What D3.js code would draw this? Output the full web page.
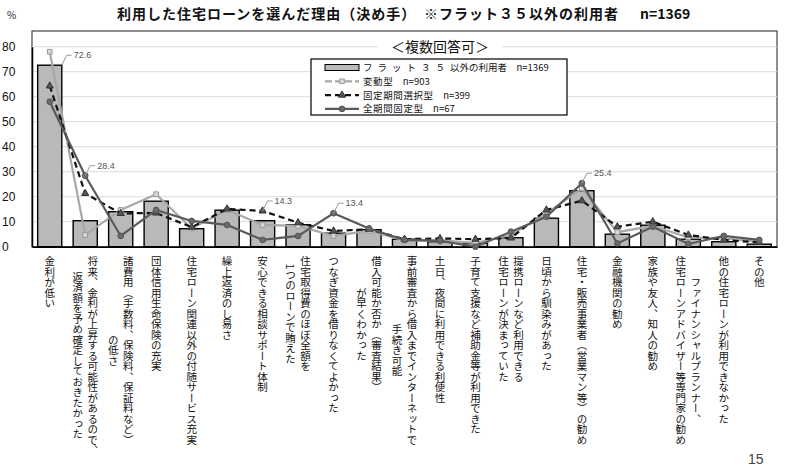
<!DOCTYPE html>
<html>
<head>
<meta charset="utf-8">
<script src="https://cdn.jsdelivr.net/npm/d3@7"></script>
<style>
body{margin:0;background:#fff;}
svg{display:block;font-family:"Noto Sans CJK JP","Noto Sans",sans-serif;}
</style>
</head>
<body>
<div id="Main_Part"></div>
<script>
// 項目（\n で改行、縦書き）
var categories = [
	"金利が低い",
	"将来、金利が上昇する可能性があるので、\n返済額を予め確定しておきたかった",
	"諸費用（手数料、保険料、保証料など）\nの低さ",
	"団体信用生命保険の充実",
	"住宅ローン関連以外の付随サービス充実",
	"繰上返済のし易さ",
	"安心できる相談サポート体制",
	"住宅取得費のほぼ全額を\n1つのローンで賄えた",
	"つなぎ資金を借りなくてよかった",
	"借入可能か否か（審査結果）\nが早くわかった",
	"事前審査から借入までインターネットで\n手続き可能",
	"土日、夜間に利用できる利便性",
	"子育て支援など補助金等が利用できた",
	"提携ローンなど利用できる\n住宅ローンが決まっていた",
	"日頃から馴染みがあった",
	"住宅・販売事業者（営業マン等）の勧め",
	"金融機関の勧め",
	"家族や友人、知人の勧め",
	"ファイナンシャルプランナー、\n住宅ローンアドバイザー等専門家の勧め",
	"他の住宅ローンが利用できなかった",
	"その他"
];

// 凡例名 [前半, 後半]
var seriesNames = [
	["フラット３５", "以外の利用者　n=1369"],
	["変動型", "　n=903"],
	["固定期間選択型", "　n=399"],
	["全期間固定型", "　n=67"]
];

var flatValues    = [72.6, 10.4, 14.0, 18.2, 7.2, 14.6, 10.4, 8.8, 5.4, 6.8, 3.0, 2.0, 1.4, 3.6, 11.4, 22.4, 5.0, 8.6, 3.0, 2.0, 1.0];
var hendoValues   = [78.0, 4.7, 14.7, 21.0, 7.3, 14.7, 8.7, 8.3, 4.3, 6.3, 2.5, 2.5, 1.5, 4.7, 13.3, 23.3, 5.8, 8.3, 3.7, 3.3, 2.0];
var senntakuValues= [64.3, 21.3, 13.3, 13.5, 7.8, 15.1, 14.3, 9.6, 6.3, 7.0, 3.0, 3.3, 3.0, 3.5, 14.7, 18.4, 8.0, 10.0, 4.7, 2.7, 1.7];
var zenkikanValues= [58.0, 28.4, 4.3, 14.7, 10.3, 8.7, 2.7, 4.3, 13.4, 7.3, 2.7, 2.3, 0.0, 6.0, 12.0, 25.4, 1.3, 8.0, 1.1, 4.3, 2.7];

var yTicks = [0, 10, 20, 30, 40, 50, 60, 70, 80];

// データラベル [項目番号, 系列]
var dataLabels = [[0, "flat"], [1, "zenkikan"], [6, "senntaku"], [8, "zenkikan"], [15, "zenkikan"]];

var Width = 800, Height = 472;
var PlotLeft = 32, PlotRight = 777, PlotTop = 31, PlotBottom = 246.7;

var svg = d3.select('#Main_Part')
	.append("svg")
	.attr("width", Width)
	.attr("height", Height);

var x = d3.scaleBand()
	.domain(d3.range(categories.length))
	.range([PlotLeft, PlotRight])
	.paddingInner(0.32)
	.paddingOuter(0.16);

var y = d3.scaleLinear()
	.domain([0, 80])
	.range([PlotBottom, 46.7]);

function cx(i) { return x(i) + x.bandwidth() / 2; }

// 枠
svg.append("rect")
	.attr("x", PlotLeft)
	.attr("y", PlotTop)
	.attr("width", PlotRight - PlotLeft)
	.attr("height", PlotBottom - PlotTop)
	.style("fill", "none")
	.style("stroke", "#444")
	.style("stroke-width", 1.2);

// グリッド
svg.append("g")
	.selectAll("line")
	.data(yTicks.slice(1))
	.enter()
	.append("line")
	.attr("x1", PlotLeft)
	.attr("x2", PlotRight)
	.attr("y1", function(d){ return y(d); })
	.attr("y2", function(d){ return y(d); })
	.style("stroke", "#dcdcdc")
	.style("stroke-width", 1);

// Y軸
var yAxis = svg.append("g")
	.attr("transform", "translate(" + PlotLeft + ",0)")
	.call(d3.axisLeft(y).tickValues(yTicks).tickSize(0).tickPadding(0));
yAxis.select(".domain").style("stroke", "#000").style("stroke-width", 1.5);
yAxis.selectAll("text")
	.attr("x", -30)
	.style("text-anchor", "start")
	.style("font-family", "'Liberation Sans',Arial,sans-serif")
	.style("font-size", "12px")
	.style("fill", "#111");

svg.append("text")
	.attr("x", 7)
	.attr("y", 19)
	.text("%")
	.style("font-size", "10px")
	.style("fill", "#222");

// 棒
svg.append("g")
	.selectAll("rect")
	.data(flatValues)
	.enter()
	.append("rect")
	.attr("x", function(d, i){ return x(i); })
	.attr("y", function(d){ return y(d); })
	.attr("width", x.bandwidth())
	.attr("height", function(d){ return PlotBottom - y(d); })
	.style("fill", "#b9b9b9")
	.style("stroke", "#000")
	.style("stroke-width", 1.4);

// X軸
var xAxis = svg.append("g")
	.attr("transform", "translate(0," + PlotBottom + ")")
	.call(d3.axisBottom(x).tickSize(0).tickFormat(""));
xAxis.select(".domain").style("stroke", "#000").style("stroke-width", 1.5);

// 折れ線
var line = d3.line()
	.x(function(d, i){ return cx(i); })
	.y(function(d){ return y(d); });

function DrawSeries(values, s)
{
	svg.append("path")
		.datum(values)
		.attr("d", line)
		.style("fill", "none")
		.style("stroke", s.color)
		.style("stroke-width", s.width)
		.style("stroke-dasharray", s.dash);

	svg.append("g")
		.selectAll("path")
		.data(values)
		.enter()
		.append("path")
		.attr("transform", function(d, i){ return "translate(" + cx(i) + "," + y(d) + ")"; })
		.attr("d", d3.symbol().type(s.marker.type).size(s.marker.size))
		.style("fill", s.marker.fill)
		.style("stroke", s.marker.stroke)
		.style("stroke-width", 1);
	return null;
}

var styles = {
	hendo:    {color: "#a8a8a8", width: 2.2, dash: null, marker: {type: d3.symbolSquare, size: 22, fill: "#d8d8d8", stroke: "#999"}},
	senntaku: {color: "#111", width: 2.2, dash: "6,4", marker: {type: d3.symbolTriangle, size: 22, fill: "#555", stroke: "#333"}},
	zenkikan: {color: "#5a5a5a", width: 2.2, dash: null, marker: {type: d3.symbolCircle, size: 26, fill: "#6a6a6a", stroke: "#555"}}
};

DrawSeries(hendoValues, styles.hendo);
DrawSeries(senntakuValues, styles.senntaku);
DrawSeries(zenkikanValues, styles.zenkikan);

// データラベル
var seriesValues = {flat: flatValues, hendo: hendoValues, senntaku: senntakuValues, zenkikan: zenkikanValues};
dataLabels.forEach(function(l){
	var v = seriesValues[l[1]][l[0]];
	var px = cx(l[0]), py = y(v);
	if (l[1] == "flat") { px = x(l[0]) + x.bandwidth(); }
	svg.append("path")
		.attr("d", "M" + px + "," + py + "L" + (px + 5) + "," + (py - 10) + "L" + (px + 10) + "," + (py - 10))
		.style("fill", "none")
		.style("stroke", "#999")
		.style("stroke-width", 1);
	svg.append("text")
		.attr("x", px + 12)
		.attr("y", py - 7)
		.text(v.toFixed(1))
		.style("font-family", "'Liberation Sans',Arial,sans-serif")
		.style("font-size", "9px")
		.style("fill", "#555");
});

// 縦書きラベル
var LabelTop = 256, LineGap = 15, FontSize = 10.5;
categories.forEach(function(c, i){
	var lines = c.split("\n");
	var g = svg.append("g");
	var texts = [];
	lines.forEach(function(s, j){
		var t = g.append("text")
			.attr("x", cx(i) + (lines.length - 1) * LineGap / 2 - j * LineGap)
			.attr("y", LabelTop)
			.text(s)
			.style("writing-mode", "vertical-rl")
			.style("font-size", FontSize + "px")
			.style("fill", "#111");
		texts.push(t);
	});
	var maxLen = d3.max(texts, function(t){ return t.node().getComputedTextLength(); });
	texts.forEach(function(t){
		var len = t.node().getComputedTextLength();
		t.attr("y", LabelTop + (maxLen - len) / 2);
	});
});

// タイトル
var Title = svg.append("text")
	.attr("y", 19)
	.style("font-size", "14px")
	.style("font-weight", "bold")
	.style("letter-spacing", "1px")
	.style("fill", "#111");
Title.append("tspan").attr("x", 117).text("利用した住宅ローンを選んだ理由（決め手）");
Title.append("tspan").attr("x", 424).text("※フラット３５以外の利用者");
Title.append("tspan").attr("x", 640).style("letter-spacing", "0px").text("n=1369");

// 複数回答可
svg.append("rect")
	.attr("x", 378)
	.attr("y", 37)
	.attr("width", 124)
	.attr("height", 19)
	.style("fill", "#fff");
svg.append("text")
	.attr("x", 440)
	.attr("y", 52)
	.attr("text-anchor", "middle")
	.text("＜複数回答可＞")
	.style("font-size", "14px")
	.style("fill", "#111");

// 凡例
var LegendX = 311, LegendY = 59, RowGap = 13.8;
var Legend = svg.append("g").attr("transform", "translate(" + LegendX + "," + LegendY + ")");
Legend.append("rect")
	.attr("width", 256)
	.attr("height", 56)
	.style("fill", "#fff")
	.style("stroke", "#000")
	.style("stroke-width", 1.2);

var rows = Legend.selectAll(".row")
	.data(seriesNames)
	.enter()
	.append("g")
	.attr("class", "row")
	.attr("transform", function(d, i){ return "translate(0," + (8.5 + i * RowGap) + ")"; });

var rowText = rows.append("text")
	.attr("x", 52)
	.attr("y", 3.5)
	.style("font-size", "9.5px")
	.style("fill", "#111");
rowText.append("tspan")
	.style("letter-spacing", function(d, i){ return i == 0 ? "5px" : "0.6px"; })
	.text(function(d){ return d[0]; });
rowText.append("tspan")
	.text(function(d){ return d[1]; });

var legendKeys = ["hendo", "senntaku", "zenkikan"];
rows.each(function(d, i){
	var r = d3.select(this);
	if (i == 0) {
		r.append("rect")
			.attr("x", 14).attr("y", -3)
			.attr("width", 34).attr("height", 6)
			.style("fill", "#b9b9b9")
			.style("stroke", "#000")
			.style("stroke-width", 1);
	} else {
		var s = styles[legendKeys[i - 1]];
		r.append("line")
			.attr("x1", 14).attr("x2", 48)
			.attr("y1", 0).attr("y2", 0)
			.style("stroke", s.color)
			.style("stroke-width", s.width)
			.style("stroke-dasharray", i == 1 ? "7,3" : s.dash);
		r.append("path")
			.attr("transform", "translate(31,0)")
			.attr("d", d3.symbol().type(s.marker.type).size(s.marker.size))
			.style("fill", s.marker.fill)
			.style("stroke", s.marker.stroke);
	}
});

// ページ番号
svg.append("text")
	.attr("x", 748)
	.attr("y", 464)
	.text("15")
	.style("font-family", "'Liberation Sans',Arial,sans-serif")
	.style("font-size", "14px")
	.style("fill", "#444");
</script>
</body>
</html>
